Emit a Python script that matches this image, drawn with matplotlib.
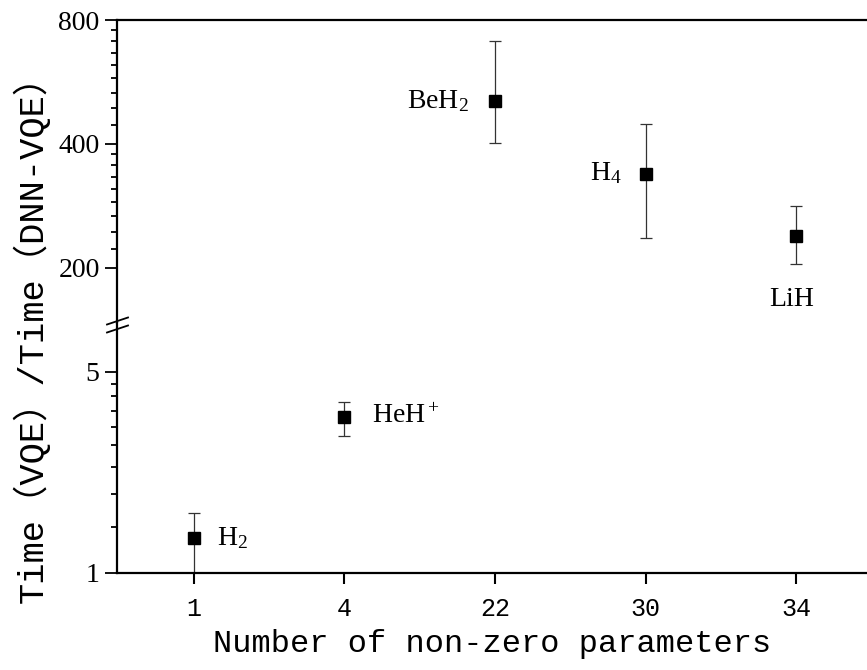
import numpy as np
import matplotlib.pyplot as plt
from matplotlib.lines import Line2D
from matplotlib.ticker import FixedLocator, NullFormatter

plt.rcParams['font.family'] = 'Liberation Serif'
plt.rcParams['mathtext.fontset'] = 'custom'
plt.rcParams['mathtext.rm'] = 'Liberation Serif'
plt.rcParams['mathtext.it'] = 'Liberation Serif:italic'

mono = ['Liberation Mono', 'Noto Sans CJK SC']

# data
params = ['1', '4', '22', '30', '34']
molecules = ['H$_2$', 'HeH$^+$', 'BeH$_2$', 'H$_4$', 'LiH']
ratio = [1.32, 3.49, 508, 339, 239]
ratio_lo = [1.0, 3.0, 403, 237, 204]
ratio_hi = [1.62, 3.93, 712, 448, 282]

# label offsets (points) and alignment for each molecule
lab_off = [(17, 0), (20, 0), (-19, 0), (-17, 0), (-3, -46)]
lab_ha = ['left', 'left', 'right', 'right', 'center']

x = np.arange(len(params))
ratio = np.array(ratio)
yerr = np.array([ratio - np.array(ratio_lo), np.array(ratio_hi) - ratio])

fig = plt.figure(figsize=(8.67, 6.70), dpi=100)
L = 117 / 867
ax_top = fig.add_axes([L, 1 - 323 / 670, 1 - L, (323 - 20) / 670])
ax_bot = fig.add_axes([L, 1 - 573 / 670, 1 - L, (573 - 323) / 670])

for ax, hi_part in [(ax_top, True), (ax_bot, False)]:
    sel = ratio > 100 if hi_part else ratio < 100
    ax.errorbar(x[sel], ratio[sel], yerr=yerr[:, sel], fmt='s', color='black',
                ms=8.5, ecolor='#333333', elinewidth=0.9, capsize=4.5, capthick=0.9)
    for i in np.where(sel)[0]:
        ax.annotate(molecules[i], (x[i], ratio[i]), xytext=lab_off[i],
                    textcoords='offset points', ha=lab_ha[i], va='center', fontsize=20)
    ax.set_yscale('log')
    ax.set_xlim(-0.51, 4.47)
    ax.spines['right'].set_visible(False)
    for s in ax.spines.values():
        s.set_linewidth(1.6)
    ax.tick_params(axis='y', which='major', direction='out', length=8.5, width=1.3,
                   labelsize=20, pad=4)
    ax.tick_params(axis='y', which='minor', direction='out', length=4.5, width=1.3)

ax_top.set_ylim(147, 800)
ax_top.spines['bottom'].set_visible(False)
ax_top.tick_params(axis='x', which='both', bottom=False, labelbottom=False)
ax_top.yaxis.set_major_locator(FixedLocator([200, 400, 800]))
ax_top.yaxis.set_minor_locator(FixedLocator(
    list(np.linspace(200, 400, 10)[1:-1]) + list(np.linspace(400, 800, 10)[1:-1])))
ax_top.set_yticklabels(['200', '400', '800'])
ax_top.yaxis.set_minor_formatter(NullFormatter())

ax_bot.set_ylim(1, 7.4)
ax_bot.spines['top'].set_visible(False)
ax_bot.yaxis.set_major_locator(FixedLocator([1, 5]))
ax_bot.yaxis.set_minor_locator(FixedLocator(np.linspace(1, 5, 10)[1:-1]))
ax_bot.set_yticklabels(['1', '5'])
ax_bot.yaxis.set_minor_formatter(NullFormatter())
ax_bot.set_xticks(x)
ax_bot.set_xticklabels(params, family=mono, fontsize=18)
ax_bot.tick_params(axis='x', direction='out', length=8, width=1.5, pad=9)
ax_bot.set_xlabel('Number of non-zero parameters', family=mono, fontsize=23, labelpad=6)

fig.text(31 / 867, 1 - 330 / 670, 'Time（VQE）/Time（DNN-VQE）', rotation=90,
         ha='center', va='center', family=mono, fontsize=25.5)

# axis break marks
for c in [321, 329]:
    fig.add_artist(Line2D([107 / 867, 128 / 867], [1 - (c + 3.5) / 670, 1 - (c - 3.5) / 670],
                          transform=fig.transFigure, color='black', lw=1.3))

fig.savefig('out.png', dpi=100)
